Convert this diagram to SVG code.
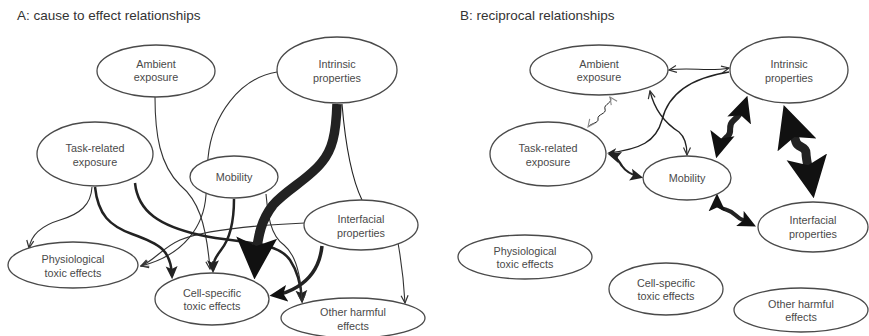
<svg xmlns="http://www.w3.org/2000/svg" width="869" height="336" viewBox="0 0 869 336">
<style>
.title{font-family:"Liberation Sans",Arial,sans-serif;font-size:13.5px;fill:#333}
.lbl{font-family:"Liberation Sans",Arial,sans-serif;font-size:10.8px;fill:#4a4a4a;text-anchor:middle}
.node ellipse{fill:#fff;stroke:#4a4a4a;stroke-width:1.3}
.c{fill:none;stroke:#222}
.t1{stroke-width:1.1;stroke:#333;marker-end:url(#mThin)}
.t2{stroke-width:2.5;marker-end:url(#mMed)}
</style>
<defs>
<marker id="mThin" viewBox="0 0 10 10" markerWidth="10" markerHeight="10" refX="9" refY="5" markerUnits="userSpaceOnUse" orient="auto-start-reverse"><path d="M1.5,1.5 L9,5 L1.5,8.5" fill="none" stroke="#333" stroke-width="1.2"/></marker>
<marker id="mThinG" viewBox="0 0 10 10" markerWidth="10" markerHeight="10" refX="9" refY="5" markerUnits="userSpaceOnUse" orient="auto-start-reverse"><path d="M1.5,1.5 L9,5 L1.5,8.5" fill="none" stroke="#888" stroke-width="1.1"/></marker>
<marker id="mFill" viewBox="0 0 10 10" markerWidth="10" markerHeight="10" refX="8" refY="5" markerUnits="userSpaceOnUse" orient="auto-start-reverse"><path d="M0,1 L10,5 L0,9 L3,5 Z" fill="#222"/></marker>
<marker id="mMed" viewBox="0 0 12 12" markerWidth="13" markerHeight="13" refX="9" refY="6" markerUnits="userSpaceOnUse" orient="auto-start-reverse"><path d="M0,0.5 L12,6 L0,11.5 L2.5,6 Z" fill="#222"/></marker>
<marker id="mM4" viewBox="0 0 16 16" markerWidth="18" markerHeight="18" refX="11" refY="8" markerUnits="userSpaceOnUse" orient="auto-start-reverse"><path d="M0,0.5 L16,8 L0,15.5 L3.5,8 Z" fill="#111"/></marker>
<marker id="mL" viewBox="0 0 24 24" markerWidth="26" markerHeight="26" refX="17" refY="12" markerUnits="userSpaceOnUse" orient="auto-start-reverse"><path d="M0,0.5 L24,12 L0,23.5 L5,12 Z" fill="#111"/></marker>
<marker id="mBig" viewBox="0 0 40 40" markerWidth="42" markerHeight="42" refX="30" refY="20" markerUnits="userSpaceOnUse" orient="auto-start-reverse"><path d="M0,0.5 L40,20 L0,39.5 L8,20 Z" fill="#111"/></marker>
</defs>

<text class="title" x="17" y="20">A: cause to effect relationships</text>
<text class="title" x="460" y="20">B: reciprocal relationships</text>

<g id="connectors">
<!-- Panel A -->
<path class="c t1" d="M155,97 C155,135 160,165 180,185 C198,200 206,222 210,269"/>
<path class="c t1" d="M277,72 C240,78 212,115 208,158 L206,195 C204,225 185,255 141,266"/>
<path class="c t1" d="M305,223 C260,225 205,230 180,240 C162,248 155,260 141,266"/>
<path class="c t1" d="M92,187 C91,205 80,214 60,220 C40,226 31,236 29,248"/>
<path class="c t2" d="M95,187 C98,215 110,226 132,234 C160,244 171,250 172,276"/>
<path class="c t2" d="M135,183 C138,212 160,226 200,235 C240,244 276,240 290,260 C298,272 301,285 302,300"/>
<path class="c t1" d="M266,194 C268,215 270,235 284,245 C296,255 301,275 302,302"/>
<path class="c t2" d="M234,199 C234,225 229,240 221,250 C215,258 213,262 213,270"/>
<path class="c" stroke-width="9.5" stroke="#111" marker-end="url(#mBig)" d="M337,104 C336,135 332,150 322,162 C310,178 286,190 273,205 C263,218 257,232 255,269"/>
<path class="c" stroke-width="1.1" stroke="#333" d="M342,104 C345,140 350,175 362,200"/>
<path class="c" stroke-width="3.5" stroke="#111" marker-end="url(#mM4)" d="M322,246 C320,265 312,278 297,287 C289,292 282,294 275,295"/>
<path class="c t1" d="M398,243 C402,265 404,285 405,303"/>

<!-- Panel B -->
<path class="c" stroke-width="1.1" stroke="#333" marker-start="url(#mThin)" marker-end="url(#mThin)" d="M669,70 C690,67 710,72 729,68"/>
<path class="c" stroke-width="1.4" marker-end="url(#mFill)" d="M729,72 C690,78 668,95 662,120 C656,142 640,149 609,153"/>
<path class="c" stroke-width="1" stroke="#888" marker-start="url(#mThinG)" marker-end="url(#mThinG)" d="M610,97 C614,103 603,104 605,109 C607,114 597,114 598,119 C599,123 591,123 588,127"/>
<path class="c" stroke-width="1.3" stroke="#333" marker-start="url(#mThin)" marker-end="url(#mThin)" d="M650,91 C655,112 668,125 679,132 C686,138 687,147 687,155"/>
<path class="c" stroke-width="2.2" marker-start="url(#mMed)" marker-end="url(#mMed)" d="M611,155 C618,157 619,162 622,166 C626,172 632,175 640,177"/>
<path class="c" stroke-width="6" stroke="#111" marker-start="url(#mL)" marker-end="url(#mL)" d="M718,151 C720,143 724,140 728,136 C733,131 727,126 733,121 C739,116 742,112 745,103"/>
<path class="c" stroke-width="9" stroke="#111" marker-start="url(#mBig)" marker-end="url(#mBig)" d="M787,115 C791,127 794,135 796,142 C798,148 806,146 806,153 C806,160 809,170 812,188"/>
<path class="c" stroke-width="4" stroke="#111" marker-start="url(#mM4)" marker-end="url(#mM4)" d="M717,199 C717,205 720,208 727,210 C735,212 736,218 743,220 C747,222 749,223 751,224"/>
</g>

<!-- Panel A nodes -->
<g id="a-ambient" class="node"><ellipse cx="156" cy="71" rx="59" ry="26"/><text class="lbl" x="156" y="68">Ambient</text><text class="lbl" x="156" y="81">exposure</text></g>
<g id="a-intrinsic" class="node"><ellipse cx="337" cy="70" rx="60" ry="33"/><text class="lbl" x="337" y="68">Intrinsic</text><text class="lbl" x="337" y="82">properties</text></g>
<g id="a-task" class="node"><ellipse cx="95" cy="154" rx="58" ry="32"/><text class="lbl" x="95" y="152">Task-related</text><text class="lbl" x="95" y="166">exposure</text></g>
<g id="a-mobility" class="node"><ellipse cx="234" cy="177" rx="44" ry="21"/><text class="lbl" x="234" y="181">Mobility</text></g>
<g id="a-interfacial" class="node"><ellipse cx="361" cy="225" rx="57" ry="25"/><text class="lbl" x="361" y="223">Interfacial</text><text class="lbl" x="361" y="237">properties</text></g>
<g id="a-physio" class="node"><ellipse cx="73" cy="265" rx="65" ry="23"/><text class="lbl" x="73" y="263">Physiological</text><text class="lbl" x="73" y="277">toxic effects</text></g>
<g id="a-cell" class="node"><ellipse cx="212" cy="299" rx="57" ry="26"/><text class="lbl" x="212" y="297">Cell-specific</text><text class="lbl" x="212" y="310">toxic effects</text></g>
<g id="a-other" class="node"><ellipse cx="353" cy="318" rx="72" ry="20"/><text class="lbl" x="353" y="316">Other harmful</text><text class="lbl" x="353" y="330">effects</text></g>

<!-- Panel B nodes -->
<g id="b-ambient" class="node"><ellipse cx="599" cy="70" rx="69" ry="25"/><text class="lbl" x="599" y="68">Ambient</text><text class="lbl" x="599" y="81">exposure</text></g>
<g id="b-intrinsic" class="node"><ellipse cx="789" cy="70" rx="59" ry="33"/><text class="lbl" x="789" y="68">Intrinsic</text><text class="lbl" x="789" y="82">properties</text></g>
<g id="b-task" class="node"><ellipse cx="548" cy="154" rx="58" ry="32"/><text class="lbl" x="548" y="152">Task-related</text><text class="lbl" x="548" y="166">exposure</text></g>
<g id="b-mobility" class="node"><ellipse cx="687" cy="178" rx="44" ry="22"/><text class="lbl" x="687" y="182">Mobility</text></g>
<g id="b-interfacial" class="node"><ellipse cx="813" cy="227" rx="55" ry="25"/><text class="lbl" x="813" y="224">Interfacial</text><text class="lbl" x="813" y="238">properties</text></g>
<g id="b-physio" class="node"><ellipse cx="525" cy="257" rx="67" ry="22"/><text class="lbl" x="525" y="255">Physiological</text><text class="lbl" x="525" y="268">toxic effects</text></g>
<g id="b-cell" class="node"><ellipse cx="666" cy="289" rx="57" ry="26"/><text class="lbl" x="666" y="287">Cell-specific</text><text class="lbl" x="666" y="300">toxic effects</text></g>
<g id="b-other" class="node"><ellipse cx="801" cy="310" rx="67" ry="22"/><text class="lbl" x="801" y="308">Other harmful</text><text class="lbl" x="801" y="321">effects</text></g>
</svg>
